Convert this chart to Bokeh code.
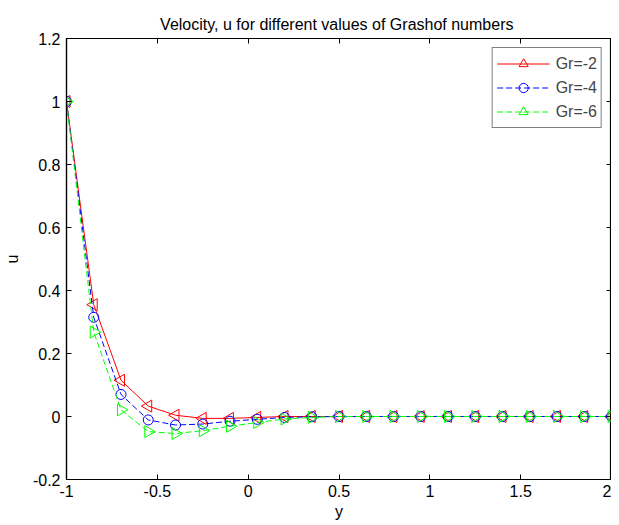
import math
from bokeh.plotting import figure
from bokeh.models import FixedTicker, LinearAxis, Range1d
from bokeh.embed import file_html
from bokeh.resources import INLINE

# ---- data ----
y_pos = [-1.0, -0.85, -0.7, -0.55, -0.4, -0.25, -0.1, 0.05, 0.2, 0.35, 0.5,
         0.65, 0.8, 0.95, 1.1, 1.25, 1.4, 1.55, 1.7, 1.85, 2.0]
u_gr2 = [1.0, 0.355, 0.115, 0.033, 0.004, -0.006, -0.006, -0.003, 0.0, 0.0, 0.0,
         0.0, 0.0, 0.0, 0.0, 0.0, 0.0, 0.0, 0.0, 0.0, 0.0]
u_gr4 = [1.0, 0.315, 0.070, -0.011, -0.027, -0.024, -0.015, -0.009, -0.003, -0.001, 0.0,
         0.0, 0.0, 0.0, 0.0, 0.0, 0.0, 0.0, 0.0, 0.0, 0.0]
u_gr6 = [1.0, 0.268, 0.021, -0.048, -0.054, -0.045, -0.031, -0.019, -0.008, -0.003, 0.0,
         0.0, 0.0, 0.0, 0.0, 0.0, 0.0, 0.0, 0.0, 0.0, 0.0]
series_labels = ["Gr=-2", "Gr=-4", "Gr=-6"]
x_ticks = [-1.0, -0.5, 0.0, 0.5, 1.0, 1.5, 2.0]
x_tick_labels = ["-1", "-0.5", "0", "0.5", "1", "1.5", "2"]
y_ticks = [-0.2, 0.0, 0.2, 0.4, 0.6, 0.8, 1.0, 1.2]
y_tick_labels = ["-0.2", "0", "0.2", "0.4", "0.6", "0.8", "1", "1.2"]

FONT = "Liberation Sans"

p = figure(frame_width=545, frame_height=441, output_backend="svg", toolbar_location=None,
           x_range=Range1d(-1, 2), y_range=Range1d(-0.2, 1.2),
           title="Velocity, u  for different values of Grashof numbers",
           min_border_left=58, min_border_right=0, min_border_top=38, min_border_bottom=0)

p.title.align = "center"
p.title.text_font = FONT
p.title.text_font_size = "16px"
p.title.text_font_style = "normal"
p.title.text_color = "black"
p.title.offset = 0
p.title.standoff = 12

p.xgrid.visible = False
p.ygrid.visible = False
p.outline_line_color = "black"
p.outline_line_width = 1.2

def style_axis(ax, ticks, labels, show_labels=True):
    ax.ticker = FixedTicker(ticks=ticks)
    if show_labels:
        ax.major_label_overrides = {t: l for t, l in zip(ticks, labels)}
    else:
        ax.major_label_overrides = {t: "" for t in ticks}
    ax.major_tick_in = 5
    ax.major_tick_out = 0
    ax.minor_tick_in = 0
    ax.minor_tick_out = 0
    ax.axis_line_color = "black"
    ax.axis_line_width = 1.2
    ax.major_tick_line_color = "black"
    ax.major_tick_line_width = 1
    ax.major_label_text_font = FONT
    ax.major_label_text_font_size = "16px"
    ax.major_label_text_color = "black"
    ax.axis_label_text_font = FONT
    ax.axis_label_text_font_size = "16px"
    ax.axis_label_text_font_style = "normal"
    ax.axis_label_text_color = "black"

style_axis(p.xaxis[0], x_ticks, x_tick_labels)
style_axis(p.yaxis[0], y_ticks, y_tick_labels)
p.xaxis.axis_label = "y"
p.yaxis.axis_label = "u"
p.xaxis.major_label_standoff = 5
p.xaxis.axis_label_standoff = 3
p.yaxis.major_label_standoff = 6
p.yaxis.axis_label_standoff = 9

top_ax = LinearAxis()
style_axis(top_ax, x_ticks, x_tick_labels, show_labels=False)
top_ax.major_label_standoff = 0
p.add_layout(top_ax, "above")
right_ax = LinearAxis()
style_axis(right_ax, y_ticks, y_tick_labels, show_labels=False)
right_ax.major_label_standoff = 0
p.add_layout(right_ax, "right")

# series
p.line(y_pos, u_gr2, color="#ff0000", line_width=1, legend_label=series_labels[0])
p.scatter(y_pos, u_gr2, marker="triangle", angle=math.pi / 2, size=12,
          line_color="#ff0000", fill_color=None, line_width=1, legend_label=series_labels[0])

p.line(y_pos, u_gr4, color="#0000ff", line_width=1, line_dash="6 3", legend_label=series_labels[1])
p.scatter(y_pos, u_gr4, marker="circle", size=10,
          line_color="#0000ff", fill_color=None, line_width=1, legend_label=series_labels[1])

p.line(y_pos, u_gr6, color="#00ff00", line_width=1, line_dash="6 3", legend_label=series_labels[2])
p.scatter(y_pos, u_gr6, marker="triangle", angle=-math.pi / 2, size=12,
          line_color="#00ff00", fill_color=None, line_width=1, legend_label=series_labels[2])

lg = p.legend[0]
lg.location = "top_right"
lg.margin = 9
lg.padding = 4
lg.spacing = 1
lg.label_height = 23
lg.glyph_height = 23
lg.glyph_width = 53
lg.label_standoff = 6
lg.label_text_font = FONT
lg.label_text_font_size = "16px"
lg.border_line_color = "black"
lg.border_line_width = 1
lg.background_fill_alpha = 1

open("out.html", "w").write(file_html(p, INLINE))
